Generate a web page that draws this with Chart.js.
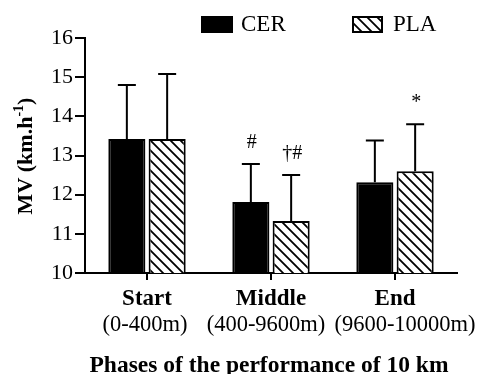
<!DOCTYPE html>
<html>
<head>
<meta charset="utf-8">
<script src="https://cdn.jsdelivr.net/npm/chart.js@4.4.0/dist/chart.umd.min.js"></script>
<style>
  body { margin: 0; background: #fff; }
  #wrap { width: 478px; height: 374px; }
</style>
</head>
<body>
<div id="wrap"><canvas id="mvChart"></canvas></div>
<script>
// data
const phases = ['Start', 'Middle', 'End'];
const ranges = ['(0-400m)', '(400-9600m)', '(9600-10000m)'];
const cerMean = [13.42, 11.81, 12.32];
const cerSdTop = [14.8, 12.78, 13.38];
const plaMean = [13.42, 11.33, 12.6];
const plaSdTop = [15.08, 12.5, 13.8];
const cerMarks = ['', '#', ''];
const plaMarks = ['', '†#', '*'];
const yTicks = [10, 11, 12, 13, 14, 15, 16];

const SERIF = '"Liberation Serif", "Times New Roman", serif';

function makeHatch() {
  const s = 10;
  const c = document.createElement('canvas');
  c.width = s; c.height = s;
  const g = c.getContext('2d');
  g.fillStyle = '#fff';
  g.fillRect(0, 0, s, s);
  g.strokeStyle = '#000';
  g.lineWidth = 1.8;
  g.beginPath();
  g.moveTo(-2, -2); g.lineTo(s + 2, s + 2);
  g.moveTo(-2, s - 2); g.lineTo(2, s + 2);
  g.moveTo(s - 2, -2); g.lineTo(s + 2, 2);
  g.stroke();
  return g.createPattern(c, 'repeat');
}
const hatch = makeHatch();

const errTops = [cerSdTop, plaSdTop];
const marks = [cerMarks, plaMarks];

// error bars + significance marks
const errorBars = {
  id: 'errorBars',
  afterDatasetsDraw(chart) {
    const ctx = chart.ctx, y = chart.scales.y;
    ctx.save();
    ctx.strokeStyle = '#000';
    ctx.lineWidth = 2;
    chart.data.datasets.forEach((ds, di) => {
      chart.getDatasetMeta(di).data.forEach((bar, i) => {
        const top = y.getPixelForValue(errTops[di][i]);
        ctx.beginPath();
        ctx.moveTo(bar.x, bar.y);
        ctx.lineTo(bar.x, top);
        ctx.moveTo(bar.x - 9, top);
        ctx.lineTo(bar.x + 9, top);
        ctx.stroke();
        if (marks[di][i]) {
          ctx.fillStyle = '#000';
          ctx.font = '20px ' + SERIF;
          ctx.textAlign = 'center';
          ctx.textBaseline = 'middle';
          ctx.fillText(marks[di][i], bar.x + 1, top - 21);
        }
      });
    });
    ctx.restore();
  }
};

// two-line category labels, axis titles, legend
const rangeShift = [-2, -5, 10];
const decorations = {
  id: 'decorations',
  afterDraw(chart) {
    const ctx = chart.ctx, x = chart.scales.x;
    ctx.save();
    ctx.fillStyle = '#000';
    ctx.textAlign = 'center';
    ctx.textBaseline = 'middle';
    phases.forEach((p, i) => {
      const px = x.getPixelForValue(i);
      ctx.font = 'bold 23px ' + SERIF;
      ctx.fillText(p, px, 299);
      ctx.font = '22.5px ' + SERIF;
      ctx.fillText(ranges[i], px + rangeShift[i], 325);
    });
    ctx.font = 'bold 23.5px ' + SERIF;
    ctx.textBaseline = 'alphabetic';
    ctx.fillText('Phases of the performance of 10 km', 269, 372);

    // y title with superscript
    ctx.translate(24, 156);
    ctx.rotate(-Math.PI / 2);
    const a = 'MV (km.h', sup = '-1', b = ')';
    ctx.font = 'bold 22px ' + SERIF;
    const wa = ctx.measureText(a).width, wb = ctx.measureText(b).width;
    ctx.font = 'bold 14px ' + SERIF;
    const ws = ctx.measureText(sup).width;
    let cx = -(wa + ws + wb) / 2;
    ctx.textAlign = 'left';
    ctx.textBaseline = 'alphabetic';
    ctx.font = 'bold 22px ' + SERIF;
    ctx.fillText(a, cx, 8); cx += wa;
    ctx.font = 'bold 14px ' + SERIF;
    ctx.fillText(sup, cx, -1); cx += ws;
    ctx.font = 'bold 22px ' + SERIF;
    ctx.fillText(b, cx, 8);
    ctx.restore();

    // legend
    ctx.save();
    const ds = chart.data.datasets;
    ctx.fillStyle = '#000';
    ctx.fillRect(201, 16, 32, 17);
    ctx.fillStyle = hatch;
    ctx.fillRect(353, 17, 29, 15);
    ctx.strokeStyle = '#000';
    ctx.lineWidth = 2;
    ctx.strokeRect(353, 17, 29, 15);
    ctx.fillStyle = '#000';
    ctx.font = '23px ' + SERIF;
    ctx.textBaseline = 'middle';
    ctx.fillText(ds[0].label, 241, 25);
    ctx.fillText(ds[1].label, 393, 25);
    ctx.restore();
  }
};

new Chart(document.getElementById('mvChart'), {
  type: 'bar',
  data: {
    labels: phases,
    datasets: [
      { label: 'CER', data: cerMean, backgroundColor: '#000', borderColor: '#000', borderWidth: 2 },
      { label: 'PLA', data: plaMean, backgroundColor: hatch, borderColor: '#000', borderWidth: 2 }
    ]
  },
  options: {
    responsive: true,
    maintainAspectRatio: false,
    animation: false,
    events: [],
    categoryPercentage: 0.65,
    barPercentage: 0.92,
    layout: { padding: { top: 38, right: 21, left: 0, bottom: 0 } },
    plugins: { legend: { display: false }, tooltip: { enabled: false } },
    scales: {
      x: {
        grid: { offset: false, drawOnChartArea: false, drawTicks: true, tickLength: 7, color: '#000', lineWidth: 2 },
        border: { display: true, color: '#000', width: 2 },
        ticks: { color: 'rgba(0,0,0,0)', font: { size: 10 } },
        afterFit(scale) { scale.height = 101; }
      },
      y: {
        min: 10,
        max: 16,
        afterBuildTicks(scale) { scale.ticks = yTicks.map(v => ({ value: v })); },
        grid: { drawOnChartArea: false, drawTicks: true, tickLength: 10, color: '#000', lineWidth: 2 },
        border: { display: true, color: '#000', width: 2 },
        ticks: { color: '#000', padding: 2, font: { family: SERIF, size: 22 } },
        afterFit(scale) { scale.width = 85; }
      }
    }
  },
  plugins: [errorBars, decorations]
});
</script>
</body>
</html>
